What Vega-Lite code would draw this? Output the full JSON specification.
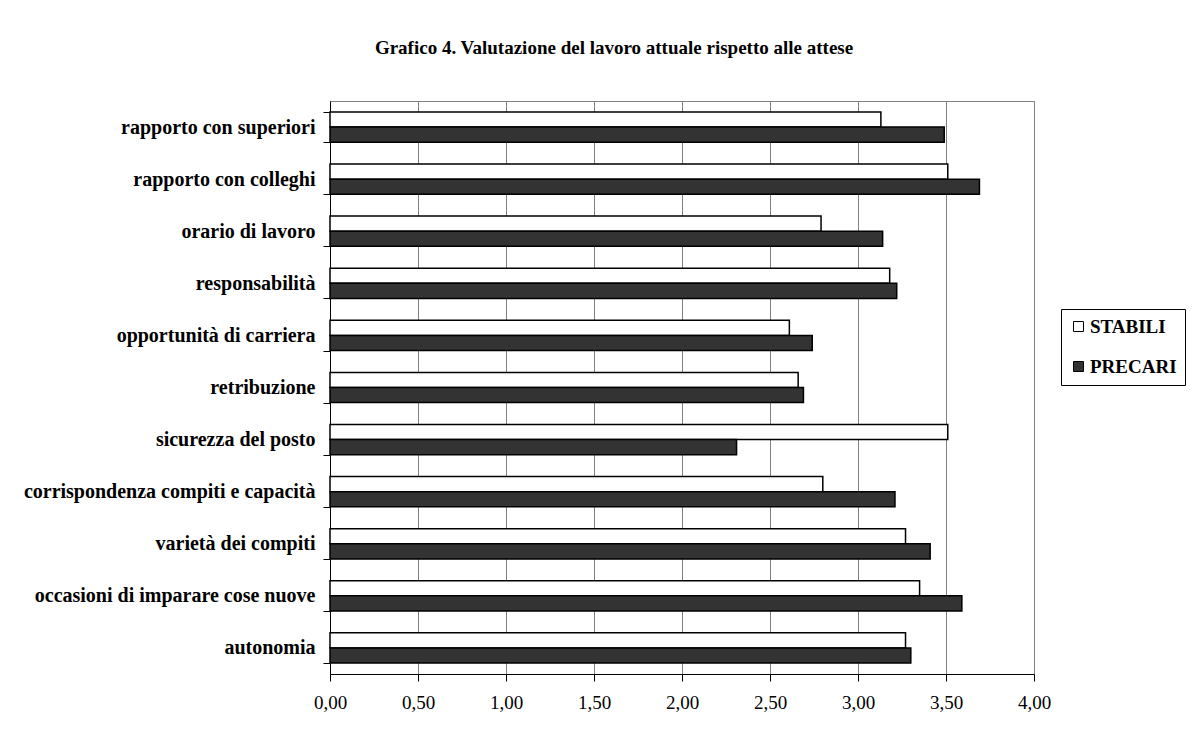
{
  "$schema": "https://vega.github.io/schema/vega-lite/v6.json",
  "width": 704,
  "height": 573,
  "autosize": {"type": "none"},
  "padding": {"left": 330, "top": 101, "right": 160, "bottom": 64},
  "background": "white",
  "title": {
    "text": "Grafico 4. Valutazione del lavoro attuale rispetto alle attese",
    "anchor": "middle",
    "frame": "group",
    "dx": -68,
    "offset": 33,
    "font": "Liberation Serif",
    "fontSize": 19,
    "fontWeight": "bold",
    "color": "black"
  },
  "config": {
    "locale": {"number": {"decimal": ",", "thousands": ".", "grouping": [3], "currency": ["€", ""]}},
    "view": {"stroke": "#808080", "strokeWidth": 1, "fill": "white"},
    "axis": {
      "domainColor": "black",
      "tickColor": "black",
      "labelColor": "black",
      "labelFont": "Liberation Serif"
    }
  },
  "data": {
    "values": [
      {"voce": "rapporto con superiori", "serie": "STABILI", "valore": 3.13},
      {"voce": "rapporto con superiori", "serie": "PRECARI", "valore": 3.49},
      {"voce": "rapporto con colleghi", "serie": "STABILI", "valore": 3.51},
      {"voce": "rapporto con colleghi", "serie": "PRECARI", "valore": 3.69},
      {"voce": "orario di lavoro", "serie": "STABILI", "valore": 2.79},
      {"voce": "orario di lavoro", "serie": "PRECARI", "valore": 3.14},
      {"voce": "responsabilità", "serie": "STABILI", "valore": 3.18},
      {"voce": "responsabilità", "serie": "PRECARI", "valore": 3.22},
      {"voce": "opportunità di carriera", "serie": "STABILI", "valore": 2.61},
      {"voce": "opportunità di carriera", "serie": "PRECARI", "valore": 2.74},
      {"voce": "retribuzione", "serie": "STABILI", "valore": 2.66},
      {"voce": "retribuzione", "serie": "PRECARI", "valore": 2.69},
      {"voce": "sicurezza del posto", "serie": "STABILI", "valore": 3.51},
      {"voce": "sicurezza del posto", "serie": "PRECARI", "valore": 2.31},
      {"voce": "corrispondenza compiti e capacità", "serie": "STABILI", "valore": 2.8},
      {"voce": "corrispondenza compiti e capacità", "serie": "PRECARI", "valore": 3.21},
      {"voce": "varietà dei compiti", "serie": "STABILI", "valore": 3.27},
      {"voce": "varietà dei compiti", "serie": "PRECARI", "valore": 3.41},
      {"voce": "occasioni di imparare cose nuove", "serie": "STABILI", "valore": 3.35},
      {"voce": "occasioni di imparare cose nuove", "serie": "PRECARI", "valore": 3.59},
      {"voce": "autonomia", "serie": "STABILI", "valore": 3.27},
      {"voce": "autonomia", "serie": "PRECARI", "valore": 3.3}
    ]
  },
  "mark": {"type": "bar", "stroke": "black", "strokeWidth": 1.5},
  "encoding": {
    "y": {
      "field": "voce",
      "type": "nominal",
      "sort": null,
      "scale": {"paddingInner": 0.42, "paddingOuter": 0.21},
      "axis": {
        "title": null,
        "labelFontSize": 20,
        "labelFontWeight": "bold",
        "labelPadding": 8,
        "tickBand": "extent",
        "tickSize": 7,
        "grid": false,
        "domainWidth": 1,
        "labelLimit": 330
      }
    },
    "yOffset": {
      "field": "serie",
      "type": "nominal",
      "sort": ["STABILI", "PRECARI"],
      "scale": {"paddingInner": 0, "paddingOuter": 0}
    },
    "x": {
      "field": "valore",
      "type": "quantitative",
      "scale": {"domain": [0, 4], "nice": false},
      "axis": {
        "title": null,
        "values": [0, 0.5, 1, 1.5, 2, 2.5, 3, 3.5, 4],
        "format": ".2f",
        "labelFontSize": 19,
        "labelPadding": 12,
        "tickSize": 7,
        "grid": true,
        "gridColor": "#808080",
        "gridWidth": 1,
        "labelFlush": false
      }
    },
    "fill": {
      "field": "serie",
      "type": "nominal",
      "sort": ["STABILI", "PRECARI"],
      "scale": {"domain": ["STABILI", "PRECARI"], "range": ["white", "#333333"]},
      "legend": {
        "title": null,
        "orient": "none",
        "legendX": 731,
        "legendY": 208,
        "strokeColor": "black",
        "fillColor": "white",
        "padding": 8,
        "rowPadding": 20,
        "symbolType": "square",
        "symbolSize": 100,
        "symbolStrokeColor": "black",
        "symbolStrokeWidth": 1,
        "symbolOffset": 0,
        "labelFont": "Liberation Serif",
        "labelFontSize": 19,
        "labelFontWeight": "bold",
        "labelColor": "black",
        "labelOffset": 2
      }
    }
  }
}
